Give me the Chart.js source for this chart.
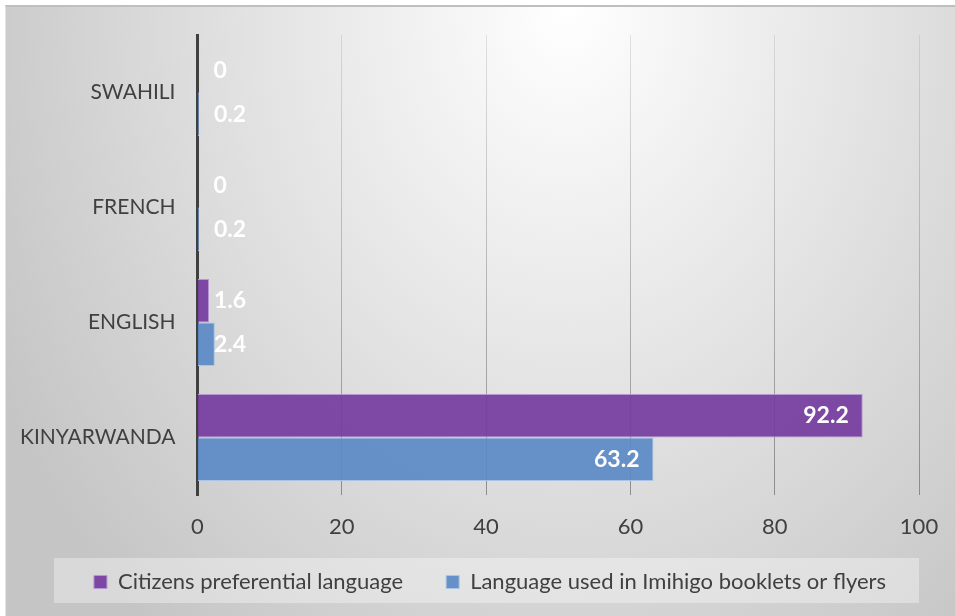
<!DOCTYPE html>
<html lang="en">
<head>
<meta charset="UTF-8">
<title>Citizens preferential language vs Imihigo booklets</title>
<script src="https://cdn.jsdelivr.net/npm/chart.js"></script>
<style>
    html, body {
        margin: 0;
        padding: 0;
        background: #fff;
    }

    /* grey frame with the soft Excel-like radial fill */
    #frame {
        position: absolute;
        left: 5px;
        top: 5px;
        width: 950px;
        height: 611px;
        box-sizing: border-box;
        border-top: 2px solid #bfbfbf;
        border-left: 1px solid #e4e4e4;
        background: radial-gradient(ellipse 640px 820px at 560px 0px, #ffffff 0%, #c5c5c5 100%);
    }

    #chart {
        position: absolute;
        left: 0;
        top: 0;
    }
</style>
</head>
<body>
<div id="frame"></div>
<canvas id="chart" width="955" height="616"></canvas>

<script>
    const categories = ['SWAHILI', 'FRENCH', 'ENGLISH', 'KINYARWANDA'];
    const seriesNames = ['Citizens preferential language', 'Language used in Imihigo booklets or flyers'];
    const citizensPreferred = [0, 0, 1.6, 92.2];
    const imihigoLanguage = [0.2, 0.2, 2.4, 63.2];
    const xTicks = [0, 20, 40, 60, 80, 100];

    const FONT = 'Lato, "Open Sans", sans-serif';

    // white value labels next to / inside the bars
    const barLabels = {
        id: 'barLabels',
        afterDatasetsDraw(chart) {
            const ctx = chart.ctx;
            ctx.save();
            ctx.font = 'bold 23px ' + FONT;
            ctx.fillStyle = '#ffffff';
            ctx.textBaseline = 'middle';
            chart.data.datasets.forEach((ds, i) => {
                chart.getDatasetMeta(i).data.forEach((bar, j) => {
                    const v = ds.data[j];
                    if (v > 20) {
                        ctx.textAlign = 'right';
                        ctx.fillText(String(v), bar.x - 14, bar.y);
                    } else {
                        ctx.textAlign = 'left';
                        ctx.fillText(String(v), bar.base + 16, bar.y);
                    }
                });
            });
            ctx.restore();
        }
    };

    // legend sits in its own light panel, a bit right of the canvas centre
    const legendPanel = {
        id: 'legendPanel',
        afterLayout(chart) {
            const lg = chart.legend;
            if (!lg) return;
            lg.left = 45;
            lg.right = 935;
            lg.top -= 12;
            lg.bottom -= 12;
        },
        beforeDraw(chart) {
            const lg = chart.legend;
            if (!lg) return;
            const ctx = chart.ctx;
            ctx.save();
            ctx.fillStyle = 'rgba(255,255,255,0.35)';
            ctx.fillRect(lg.left + 9, lg.top + 30, lg.right - lg.left - 25, 45);
            ctx.restore();
        }
    };

    function gridColor(c) {
        const { ctx, chartArea } = c.chart;
        if (!chartArea) return '#b0b0b0';
        const g = ctx.createLinearGradient(0, chartArea.top, 0, chartArea.bottom);
        g.addColorStop(0, 'rgba(150,150,150,0.25)');
        g.addColorStop(1, 'rgba(110,110,110,0.72)');
        return g;
    }

    new Chart(document.getElementById('chart'), {
        type: 'bar',
        data: {
            labels: categories,
            datasets: [{
                label: seriesNames[0],
                data: citizensPreferred,
                backgroundColor: 'rgba(117,60,160,0.92)',
                borderColor: '#b597d2',
                borderWidth: 1
            }, {
                label: seriesNames[1],
                data: imihigoLanguage,
                backgroundColor: 'rgba(90,138,197,0.92)',
                borderColor: '#a9c4e6',
                borderWidth: 1
            }]
        },
        options: {
            indexAxis: 'y',
            responsive: false,
            animation: false,
            categoryPercentage: 0.755,
            barPercentage: 1,
            layout: {
                padding: { top: 35, right: 36, bottom: 1, left: 0 }
            },
            plugins: {
                tooltip: { enabled: false },
                legend: {
                    position: 'bottom',
                    labels: {
                        boxWidth: 13,
                        boxHeight: 13,
                        padding: 43,
                        color: '#404040',
                        font: { family: FONT, size: 22 }
                    }
                }
            },
            scales: {
                x: {
                    min: 0,
                    max: 100,
                    afterBuildTicks(scale) {
                        scale.ticks = xTicks.map(v => ({ value: v }));
                    },
                    afterFit(scale) {
                        scale.height = 45;
                        scale.paddingLeft = 0;
                        scale.paddingRight = 0;
                    },
                    grid: { color: gridColor, lineWidth: 1, drawTicks: false },
                    border: { display: false },
                    ticks: {
                        color: '#404040',
                        padding: 19,
                        font: { family: FONT, size: 22 }
                    }
                },
                y: {
                    afterFit(scale) {
                        scale.width = 197.5;
                        scale.paddingTop = 0;
                        scale.paddingBottom = 0;
                    },
                    grid: { display: false, drawTicks: false },
                    border: { display: true, color: '#404040', width: 3 },
                    ticks: {
                        color: '#404040',
                        padding: 22,
                        font: { family: FONT, size: 21 }
                    }
                }
            }
        },
        plugins: [barLabels, legendPanel]
    });
</script>
</body>
</html>
